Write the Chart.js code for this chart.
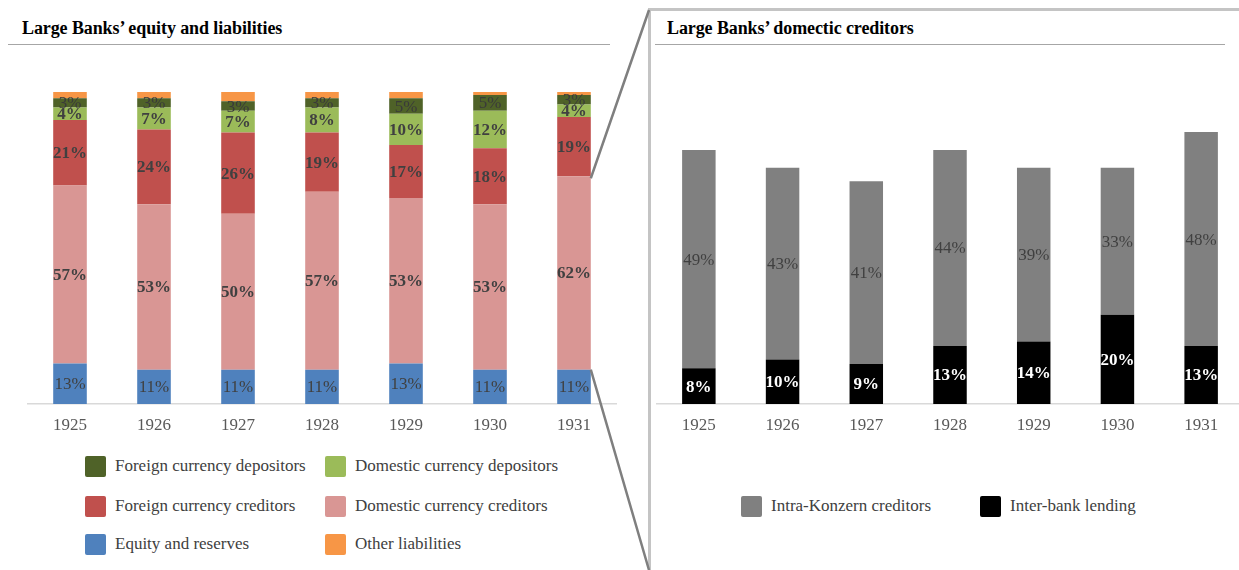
<!DOCTYPE html>
<html>
<head>
<meta charset="utf-8">
<script src="https://cdn.jsdelivr.net/npm/chart.js@4.4.1/dist/chart.umd.min.js"></script>
<style>
  html, body { margin: 0; padding: 0; width: 1239px; height: 570px; overflow: hidden; background: #fff; }
  body { position: relative; font-family: "Liberation Serif", "DejaVu Serif", serif; }
  .title { position: absolute; top: 18px; font-size: 18px; font-weight: bold; color: #000; white-space: nowrap; letter-spacing: -0.1px; }
  .rule { position: absolute; top: 44px; height: 0; border-top: 1.5px solid #a6a6a6; }
  .frame { position: absolute; left: 648px; top: 8px; width: 640px; height: 620px;
           border-top: 3px solid #c4c4c4; border-left: 3px solid #c4c4c4; box-sizing: border-box; }
  .wrap { position: absolute; top: 0; height: 440px; }
  .legend-item { position: absolute; height: 22px; display: flex; align-items: center;
                 font-size: 17px; color: #404040; white-space: nowrap; }
  .legend-item .sw { width: 21px; height: 21px; border-radius: 2px; margin-right: 9px; flex: none; }
  #overlay { position: absolute; left: 0; top: 0; pointer-events: none; }
</style>
</head>
<body>
<div class="frame"></div>

<div class="title" style="left:22px;">Large Banks’ equity and liabilities</div>
<div class="rule" style="left:8px; width:602px;"></div>
<div class="title" style="left:667px;">Large Banks’ domectic creditors</div>
<div class="rule" style="left:655px; width:570px;"></div>

<div class="wrap" style="left:0; width:640px;"><canvas id="left"></canvas></div>
<div class="wrap" style="left:640px; width:620px;"><canvas id="right"></canvas></div>
<div id="legendLeft"></div>
<div id="legendRight"></div>
<canvas id="overlay" width="1239" height="570"></canvas>

<script>
// Years shown on both panels
const years = ['1925', '1926', '1927', '1928', '1929', '1930', '1931'];

// Equity and liabilities structure, percent of total
const equityReserves       = [13, 11, 11, 11, 13, 11, 11];
const domesticCreditors    = [57, 53, 50, 57, 53, 53, 62];
const foreignCreditors     = [21, 24, 26, 19, 17, 18, 19];
const domesticDepositors   = [4, 7, 7, 8, 10, 12, 4];
const foreignDepositors    = [3, 3, 3, 3, 5, 5, 3];
const otherLiabilities     = [2, 2, 3, 2, 2, 1, 1];

// Domestic creditors breakdown, percent
const interBankLending     = [8, 10, 9, 13, 14, 20, 13];
const intraKonzern         = [49, 43, 41, 44, 39, 33, 48];

const SERIF = '"Liberation Serif", "DejaVu Serif", serif';

// Draws each segment's value in the middle of the bar piece
const segmentLabels = {
  id: 'segmentLabels',
  afterDatasetsDraw(chart) {
    const ctx = chart.ctx;
    chart.data.datasets.forEach((ds, i) => {
      if (!ds.labelStyle) return;
      const meta = chart.getDatasetMeta(i);
      if (meta.hidden) return;
      meta.data.forEach((el, j) => {
        const v = ds.data[j];
        const y = (el.y + el.base) / 2;
        ctx.save();
        ctx.font = `${ds.labelStyle.bold ? 'bold ' : ''}17px ${SERIF}`;
        ctx.fillStyle = ds.labelStyle.color;
        ctx.textAlign = 'center';
        ctx.textBaseline = 'middle';
        ctx.fillText(v + '%', el.x, y + 1);
        ctx.restore();
      });
    });
  }
};

function baseOptions(yMax, padLeft, padRight) {
  return {
    responsive: false,
    animation: false,
    maintainAspectRatio: false,
    layout: { padding: { top: 92, left: padLeft, right: padRight, bottom: 0 } },
    plugins: { legend: { display: false }, tooltip: { enabled: false } },
    scales: {
      x: {
        stacked: true,
        grid: { display: false, drawTicks: false },
        border: { display: true, color: '#d9d9d9', width: 1.5 },
        ticks: { color: '#595959', font: { family: SERIF, size: 17 }, padding: 11 },
        afterFit(scale) { scale.height = 36; }
      },
      y: { stacked: true, display: false, min: 0, max: yMax }
    }
  };
}

function setupCanvas(id, w, h) {
  const c = document.getElementById(id);
  c.width = w; c.height = h;
  c.style.width = w + 'px'; c.style.height = h + 'px';
  return c;
}

const barOpts = { categoryPercentage: 1.0, barPercentage: 0.4, borderWidth: 0 };

const leftChart = new Chart(setupCanvas('left', 640, 440), {
  type: 'bar',
  data: {
    labels: years,
    datasets: [
      { label: 'Equity and reserves', data: equityReserves, backgroundColor: '#4f81bd',
        labelStyle: { color: '#404040', bold: false }, ...barOpts },
      { label: 'Domestic currency creditors', data: domesticCreditors, backgroundColor: '#d99694',
        labelStyle: { color: '#404040', bold: true }, ...barOpts },
      { label: 'Foreign currency creditors', data: foreignCreditors, backgroundColor: '#c0504d',
        labelStyle: { color: '#404040', bold: true }, ...barOpts },
      { label: 'Domestic currency depositors', data: domesticDepositors, backgroundColor: '#9bbb59',
        labelStyle: { color: '#404040', bold: true }, ...barOpts },
      { label: 'Foreign currency depositors', data: foreignDepositors, backgroundColor: '#4f6228',
        labelStyle: { color: '#3a3a3a', bold: false }, ...barOpts },
      { label: 'Other liabilities', data: otherLiabilities, backgroundColor: '#f79646', ...barOpts }
    ]
  },
  options: baseOptions(100, 28, 24),
  plugins: [segmentLabels]
});

const rightChart = new Chart(setupCanvas('right', 620, 440), {
  type: 'bar',
  data: {
    labels: years,
    datasets: [
      { label: 'Inter-bank lending', data: interBankLending, backgroundColor: '#000000',
        labelStyle: { color: '#ffffff', bold: true }, ...barOpts },
      { label: 'Intra-Konzern creditors', data: intraKonzern, backgroundColor: '#808080',
        labelStyle: { color: '#404040', bold: false }, ...barOpts }
    ]
  },
  options: baseOptions(70, 17, 17),
  plugins: [segmentLabels]
});

// Legends built from the chart datasets
function buildLegend(containerId, chart, order, positions) {
  const box = document.getElementById(containerId);
  order.forEach((name, k) => {
    const ds = chart.data.datasets.find(d => d.label === name);
    const item = document.createElement('div');
    item.className = 'legend-item';
    item.style.left = positions[k][0] + 'px';
    item.style.top = (positions[k][1] - 11) + 'px';
    const sw = document.createElement('span');
    sw.className = 'sw';
    sw.style.background = ds.backgroundColor;
    const tx = document.createElement('span');
    tx.textContent = ds.label;
    item.appendChild(sw); item.appendChild(tx);
    box.appendChild(item);
  });
}

buildLegend('legendLeft', leftChart,
  ['Foreign currency depositors', 'Domestic currency depositors',
   'Foreign currency creditors', 'Domestic currency creditors',
   'Equity and reserves', 'Other liabilities'],
  [[85, 466], [325, 466], [85, 506], [325, 506], [85, 544], [325, 544]]);

buildLegend('legendRight', rightChart,
  ['Intra-Konzern creditors', 'Inter-bank lending'],
  [[741, 506], [980, 506]]);

// Connector lines from the 1931 domestic creditors segment to the right panel
(function drawConnectors() {
  const meta = leftChart.getDatasetMeta(1);
  const el = meta.data[meta.data.length - 1];
  const xr = el.x + el.width / 2;
  const ctx = document.getElementById('overlay').getContext('2d');
  ctx.strokeStyle = '#7f7f7f';
  ctx.lineWidth = 2.5;
  ctx.beginPath();
  ctx.moveTo(xr, el.y + 2);
  ctx.lineTo(649, 10);
  ctx.moveTo(xr, el.base);
  ctx.lineTo(649, 570);
  ctx.stroke();
})();
</script>
</body>
</html>
